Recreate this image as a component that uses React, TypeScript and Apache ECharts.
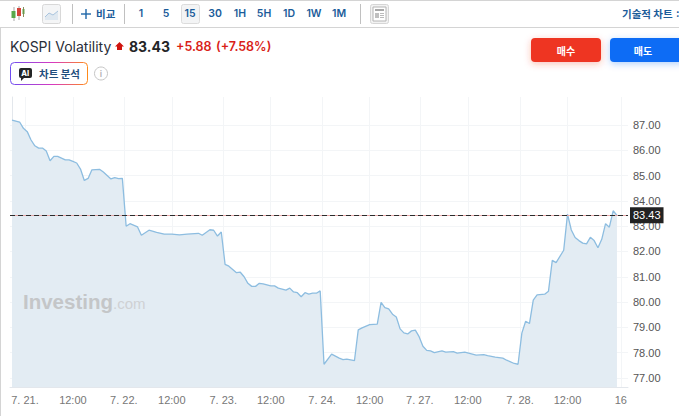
import React, { useEffect, useRef } from "react";
import * as echarts from "echarts";

const slots = [0,2,3,4,5,6,7,8,9,10,11,12,14,15,16,17,18,19,20,21,23,24,26,27,28,29,30,31,33,34,36,38,40,42,44,46,49,50,52,53,54,55,56,57,59,60,61,62,63,64,65,66,68,69,70,72,73,74,75,76,77,78,79,80,81,82,84,86,87,88,90,91,92,94,95,96,97,98,99,100,101,102,103,104,105,106,107,108,109,110,111,113,114,116,117,119,120,122,124,125,127,129,130,132,133,134,135,136,137,138,140,141,142,143,145,146,147,148,149,150,151,152,153,154,155,156,157,158,159];
const values = [87.2,87.12,86.87,86.74,86.41,86.18,86.09,86.09,85.97,85.59,85.76,85.76,85.62,85.62,85.56,85.5,85.26,84.81,84.89,85.23,85.25,85.14,84.87,84.92,84.88,84.89,83.0,83.1,82.97,82.64,82.84,82.76,82.69,82.69,82.66,82.69,82.72,82.64,82.86,82.84,82.61,82.77,81.49,81.42,81.16,81.18,81.0,80.74,80.62,80.62,80.74,80.72,80.64,80.64,80.55,80.47,80.55,80.4,80.37,80.21,80.37,80.31,80.35,80.35,80.44,77.54,77.94,77.78,77.72,77.74,77.68,78.9,78.98,79.11,79.12,79.13,79.99,79.78,79.73,79.52,79.41,78.94,78.78,78.74,78.86,78.89,78.63,78.25,78.09,78.07,78.0,78.07,78.02,78.04,77.98,78.02,77.98,77.9,77.92,77.88,77.82,77.78,77.7,77.57,77.54,78.77,79.24,79.15,80.08,80.28,80.31,80.43,81.65,81.56,82.05,83.48,82.85,82.55,82.43,82.33,82.3,82.56,82.43,82.15,82.48,83.1,82.96,83.61,83.43];
const tickSlots = [3.4,16,29.4,42,55.5,68,81.5,94,107.2,119.8,133.5,146,160];
const tickLabels = ["7. 21.","12:00","7. 22.","12:00","7. 23.","12:00","7. 24.","12:00","7. 27.","12:00","7. 28.","12:00","16"];
const yTicks = [77,78,79,80,81,82,83,84,85,86,87];
const lastPrice = 83.43;
const intervals = ["1","5","15","30","1H","5H","1D","1W","1M"];
const intervalX = [141,166,190,215,240,264,289,314,339];

const FONT = "Inter, 'Noto Sans CJK KR', sans-serif";
const KR = "'Noto Sans CJK KR', sans-serif";
const BLUE = "#1b5c9a";

const txt = (text: string, x: number, y: number, fontSize: number, fill: string, fontWeight: any = 400, extra: any = {}) => ({
  type: "text", x, y, z: 20, silent: true,
  style: { text, fontSize, fill, fontWeight, fontFamily: FONT, textVerticalAlign: "middle", ...extra },
});
const ln = (x1: number, y1: number, x2: number, y2: number, stroke: string, lineWidth = 1) => ({
  type: "line", z: 10, silent: true, shape: { x1, y1, x2, y2 }, style: { stroke, lineWidth },
});
const box = (x: number, y: number, width: number, height: number, style: any, r = 0, extra: any = {}) => ({
  type: "rect", z: 10, silent: true, shape: { x, y, width, height, r }, style, ...extra,
});

function header() {
  const g: any[] = [
    ln(0, 0.5, 679, 0.5, "#d4d4d4"),
    ln(0, 27.5, 679, 27.5, "#d4d4d4"),
    ln(0.5, 27, 0.5, 416, "#d4d4d4", 1),
    // candle icon
    ln(14, 7, 14, 21, "#a9a9a9"), box(11.5, 11, 4, 7, { fill: "#58a84a" }),
    ln(19, 6, 19, 20, "#a9a9a9"), box(17, 8, 4, 8, { fill: "#d5433a" }),
    ln(23.5, 7, 23.5, 17, "#8a8a5a"), box(22.5, 9, 2, 5, { fill: "#6a9a4a" }),
    // line icon
    box(42.5, 4.5, 18, 19, { fill: "#f4f5f6", stroke: "#d8d8d8" }, 2),
    { type: "polygon", z: 10, silent: true, shape: { points: [[45, 17], [49, 13], [53, 15], [58, 11], [58, 20], [45, 20]] }, style: { fill: "#dfe8f0" } },
    { type: "polyline", z: 11, silent: true, shape: { points: [[45, 17], [49, 13], [53, 15], [58, 11]] }, style: { stroke: "#a9c4de", fill: "none", lineWidth: 1 } },
    ln(72.5, 4, 72.5, 24, "#c0c0c0"),
    ln(81, 14, 91, 14, "#1f66a8", 1.4), ln(86, 9, 86, 19, "#1f66a8", 1.4),
    txt("비교", 96, 13, 10.5, BLUE, 700, { fontFamily: KR }),
    ln(124.5, 4, 124.5, 24, "#c0c0c0"),
    box(181.5, 4.5, 18, 19, { fill: "#f3f4f5", stroke: "#dcdcdc" }, 2),
    ln(360.5, 4, 360.5, 24, "#c0c0c0"),
    // news icon
    box(370.5, 4.5, 18, 19, { fill: "#f2f2f2", stroke: "#d6d6d6" }, 2),
    box(373, 7, 13, 14, { fill: "#fff", stroke: "#b4b4b4" }),
    box(375, 9, 9, 2, { fill: "#a8a8a8" }),
    box(375, 13, 4, 5, { fill: "#c0c0c0" }),
    ln(380, 13.5, 384, 13.5, "#bbbbbb"), ln(380, 15.5, 384, 15.5, "#bbbbbb"), ln(380, 17.5, 384, 17.5, "#bbbbbb"),
    txt("기술적 차트", 622, 13, 10.5, BLUE, 700, { fontFamily: KR }),
    txt(":", 676, 13, 10.5, BLUE, 700),
    // title
    txt("KOSPI Volatility", 10, 46, 14, "#2a2e39", 400),
    { type: "polygon", z: 20, silent: true, shape: { points: [[119.5, 42], [124, 46.5], [122, 46.5], [122, 50], [117, 50], [117, 46.5], [115, 46.5]] }, style: { fill: "#d0140f" } },
    txt("83.43", 129, 46, 14, "#232526", 700),
    txt("+5.88", 176, 46, 12.5, "#d91e18", 600),
    txt("(+7.58%)", 216, 46, 12.5, "#d91e18", 600),
    // AI badge
    box(10.5, 62.5, 77, 22, {
      fill: "#fff", lineWidth: 1,
      stroke: new echarts.graphic.LinearGradient(0, 0, 1, 0, [
        { offset: 0, color: "#6f4df0" }, { offset: 0.55, color: "#d83ac0" }, { offset: 1, color: "#ff8a1a" },
      ]),
    }, 4),
    box(19, 68, 13, 10, { fill: "#232526" }, 2),
    { type: "polygon", z: 11, silent: true, shape: { points: [[21, 77], [25, 77], [21, 81]] }, style: { fill: "#232526" } },
    txt("AI", 21.3, 73, 7.5, "#fff", 800),
    txt("차트 분석", 39, 73, 10.5, "#1f4e7d", 700, { fontFamily: KR }),
    { type: "circle", z: 10, silent: true, shape: { cx: 101, cy: 73.5, r: 6.5 }, style: { fill: "#fff", stroke: "#c6c6c6", lineWidth: 1 } },
    txt("i", 99.8, 73.5, 9, "#b4b4b4", 600),
    // buttons
    box(531, 38, 70, 24, { fill: "#ee3524", shadowBlur: 7, shadowColor: "rgba(238,53,36,0.3)", shadowOffsetY: 2 }, 4),
    txt("매수", 566, 50.5, 10, "#fff", 700, { fontFamily: KR, textAlign: "center" }),
    box(610, 38, 74, 24, { fill: "#0a6cf5", shadowBlur: 7, shadowColor: "rgba(10,108,245,0.3)", shadowOffsetY: 2 }, 4),
    txt("매도", 643, 50.5, 10, "#fff", 700, { fontFamily: KR, textAlign: "center" }),
    // watermark
    txt("Investing", 23, 301, 20.5, "#c4c6c8", 800, { fontFamily: "'Liberation Sans', sans-serif" }),
    txt(".com", 113, 303, 15, "#cfd1d3", 400, { fontFamily: "'Liberation Sans', sans-serif" }),
  ];
  intervals.forEach((label, i) => {
    g.push(txt(label, intervalX[i], 13.5, 10.5, BLUE, 600, { textAlign: "center" }));
  });
  return g;
}

export default function App() {
  const ref = useRef<HTMLDivElement>(null);
  useEffect(() => {
    const chart = echarts.init(ref.current!, undefined, { renderer: "svg" });
    const tickMap = new Map(tickSlots.map((s, i) => [s, tickLabels[i]]));
    chart.setOption({
      animation: false,
      backgroundColor: "#fff",
      grid: { left: 10, top: 97, width: 618, height: 290, containLabel: false },
      xAxis: {
        type: "value", min: -0.53, max: 161.9,
        axisLine: { show: true, onZero: false, lineStyle: { color: "#e3e7ec" } },
        axisTick: { show: false, customValues: tickSlots },
        axisLabel: {
          customValues: tickSlots, color: "#777", fontSize: 11, margin: 7,
          fontFamily: "'Liberation Sans', sans-serif",
          formatter: (v: number) => tickMap.get(v) ?? "",
        },
        splitLine: { show: true, lineStyle: { color: "#f3f5f7" } },
      },
      yAxis: {
        type: "value", position: "right", min: 76.64, max: 88.11,
        axisLine: { show: true, lineStyle: { color: "#e3e7ec" } },
        axisTick: { show: false, customValues: yTicks },
        axisLabel: {
          customValues: yTicks, color: "#555", fontSize: 11, margin: 5,
          fontFamily: "'Liberation Sans', sans-serif",
          formatter: (v: number) => v.toFixed(2),
        },
        splitLine: { show: true, lineStyle: { color: "#f3f5f7" } },
      },
      series: [
        {
          type: "line", showSymbol: false, silent: true, smooth: false,
          data: slots.map((s, i) => [s, values[i]]),
          lineStyle: { color: "#8dbde0", width: 1.3 },
          areaStyle: { color: "#e3ecf3", opacity: 1, origin: "start" },
          markLine: {
            silent: true, symbol: "none", animation: false,
            data: [
              { yAxis: lastPrice, lineStyle: { type: "solid", color: "#e8a9a9", width: 1 }, label: { show: false } },
              {
                yAxis: lastPrice, lineStyle: { type: [5, 3], color: "#2b2b2b", width: 1 },
                label: {
                  show: true, position: "end", distance: 2, formatter: lastPrice.toFixed(2),
                  color: "#fff", backgroundColor: "#222", fontSize: 11, padding: [3, 3, 2, 3],
                  fontFamily: "'Liberation Sans', sans-serif",
                },
              },
            ],
          },
        },
      ],
      graphic: { elements: header() },
    });
    return () => chart.dispose();
  }, []);
  return <div ref={ref} style={{ position: "absolute", left: 0, top: 0, width: 679, height: 416 }} />;
}
